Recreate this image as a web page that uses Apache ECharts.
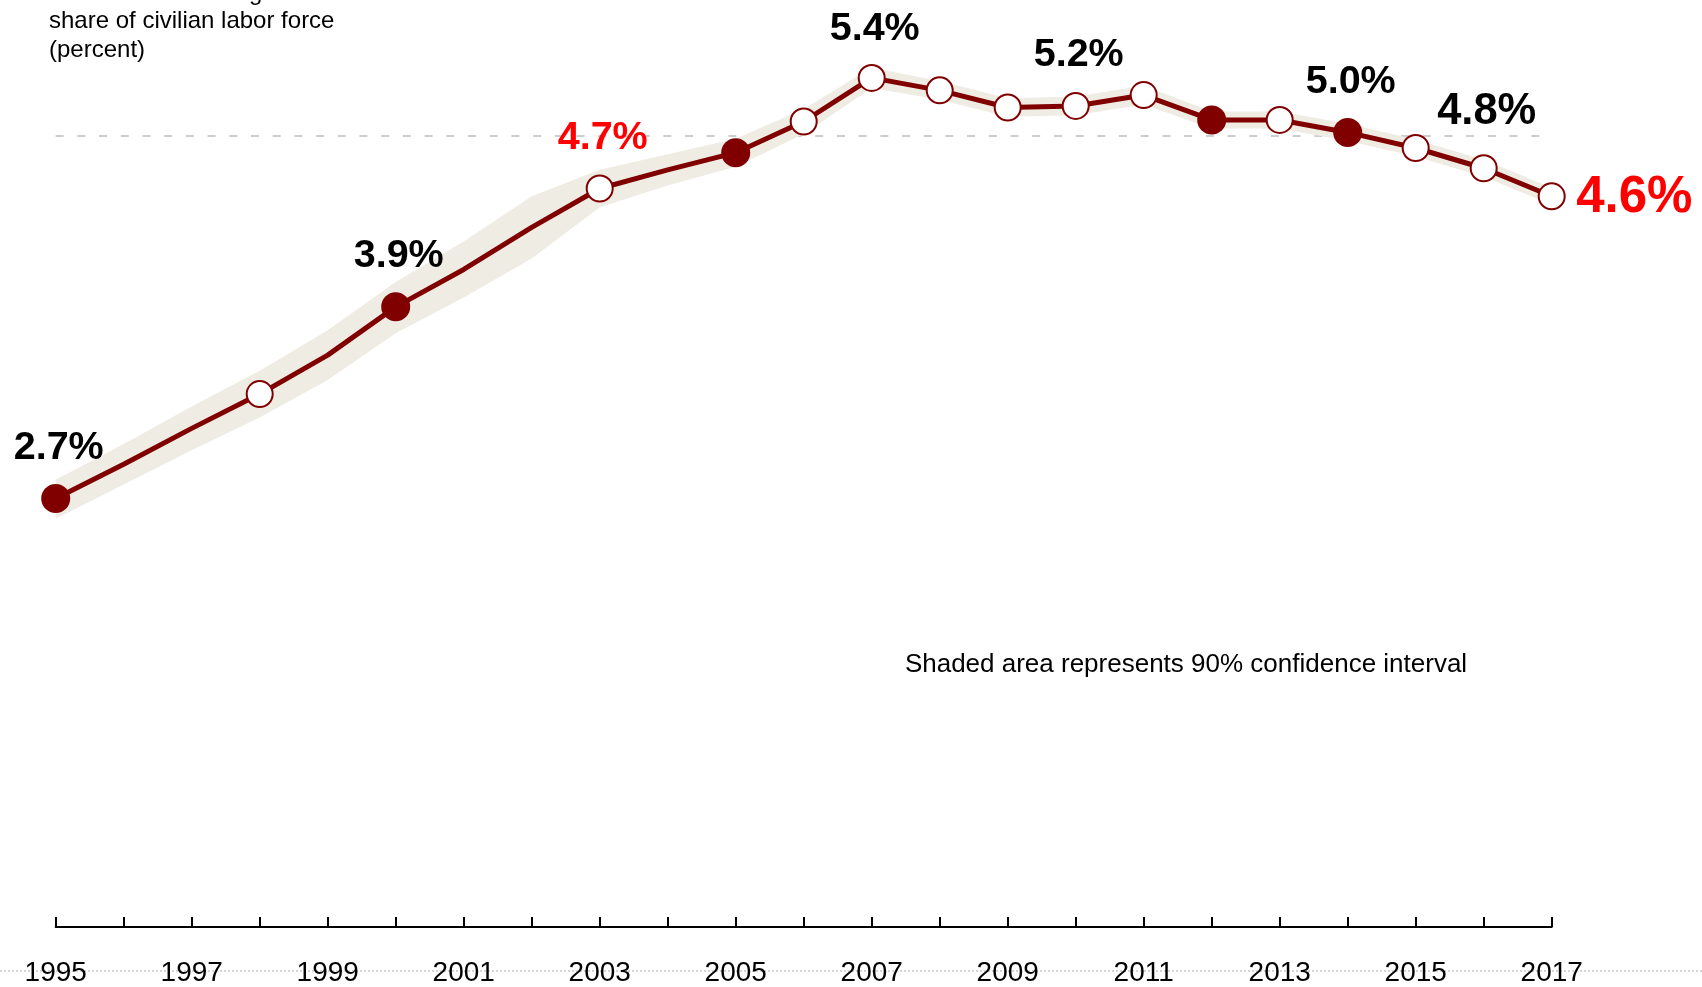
<!DOCTYPE html>
<html>
<head>
<meta charset="utf-8">
<script src="https://cdn.jsdelivr.net/npm/echarts@6/dist/echarts.min.js"></script>
<style>
	html, body { margin: 0; padding: 0; background: #fff; }
	#main { width: 1702px; height: 987px; }
</style>
</head>
<body>
<div id="main"></div>
<script>
	var years = ['1995', '1996', '1997', '1998', '1999', '2000', '2001', '2002', '2003', '2004', '2005', '2006',
		'2007', '2008', '2009', '2010', '2011', '2012', '2013', '2014', '2015', '2016', '2017'];
	// share of civilian labor force, percent
	var shareData = [2.70, 2.92, 3.15, 3.37, 3.62, 3.93, 4.17, 4.44, 4.69, 4.81, 4.92, 5.12,
		5.40, 5.32, 5.21, 5.22, 5.29, 5.13, 5.13, 5.05, 4.95, 4.82, 4.64];
	// 90% confidence interval
	var lowData = [2.57, 2.79, 3.01, 3.22, 3.46, 3.76, 3.99, 4.24, 4.57, 4.71, 4.83, 5.04,
		5.335, 5.26, 5.15, 5.16, 5.23, 5.075, 5.075, 4.995, 4.895, 4.765, 4.585];
	var highData = [2.82, 3.05, 3.29, 3.52, 3.78, 4.09, 4.35, 4.64, 4.81, 4.91, 5.01, 5.20,
		5.465, 5.38, 5.27, 5.28, 5.35, 5.185, 5.185, 5.105, 5.005, 4.875, 4.695];
	var filledYears = ['1995', '2000', '2005', '2012', '2014'];
	var openYears = ['1998', '2003', '2006', '2007', '2008', '2009', '2010', '2011', '2013', '2015', '2016', '2017'];
	var labelYears = ['1995', '2000', '2003', '2007', '2010', '2014', '2016', '2017'];
	var labelTexts = ['2.7%', '3.9%', '4.7%', '5.4%', '5.2%', '5.0%', '4.8%', '4.6%'];
	var refLevel = 5.03;

	var font = '"Liberation Sans", Arial, Helvetica, sans-serif';
	var lineColor = '#800000';

	function pointsFor(list) {
		return list.map(function (y) {
			return [y, shareData[years.indexOf(y)]];
		});
	}

	var bandData = highData.map(function (h, i) {
		return +(h - lowData[i]).toFixed(3);
	});

	var labelData = labelYears.map(function (y, i) {
		var item = {
			value: [y, shareData[years.indexOf(y)]],
			label: { formatter: labelTexts[i] }
		};
		if (y === '2003') item.label.color = '#ff0000';
		if (y === '2007') item.label.distance = 28;
		if (y === '2016') {
			item.label.fontSize = 43.5;
			item.label.distance = 34;
		}
		if (y === '2017') {
			item.label.color = '#ff0000';
			item.label.fontSize = 51;
			item.label.position = 'right';
			item.label.distance = 24;
			item.label.offset = [0, 2];
		}
		return item;
	});

	var option = {
		animation: false,
		title: {
			text: 'Unauthorized immigrant workers as a\nshare of civilian labor force\n(percent)',
			left: 49,
			top: -21,
			padding: 0,
			textStyle: {
				fontFamily: font,
				fontSize: 24,
				fontWeight: 'normal',
				lineHeight: 28.5,
				color: '#000'
			}
		},
		grid: {
			left: 55.7,
			right: 150.3,
			top: 15.6,
			bottom: 66
		},
		xAxis: {
			type: 'category',
			data: years,
			boundaryGap: false,
			offset: 8,
			axisLine: {
				onZero: false,
				lineStyle: { color: '#000', width: 2 }
			},
			axisTick: {
				inside: true,
				length: 10,
				interval: 0,
				lineStyle: { color: '#000', width: 2 }
			},
			axisLabel: {
				interval: 1,
				margin: 32,
				fontFamily: font,
				fontSize: 28,
				color: '#000'
			},
			splitLine: { show: false }
		},
		yAxis: {
			type: 'value',
			min: 0,
			max: 5.8,
			show: false
		},
		graphic: [{
			type: 'line',
			z: -10,
			shape: { x1: 0, y1: 971, x2: 1702, y2: 971 },
			style: { stroke: '#c8c8c8', lineWidth: 1.5, lineDash: [2, 2] }
		}, {
			type: 'text',
			x: 1186,
			y: 665,
			style: {
				text: 'Shaded area represents 90% confidence interval',
				font: '26px ' + font,
				fill: '#000',
				align: 'center',
				verticalAlign: 'middle'
			}
		}],
		series: [{
				name: 'low',
				type: 'line',
				stack: 'ci',
				data: lowData,
				symbol: 'none',
				lineStyle: { opacity: 0 },
				z: 2,
				markLine: {
					z: 1,
					silent: true,
					symbol: 'none',
					label: { show: false },
					lineStyle: { color: '#bdbdbd', width: 1.5, type: [8, 13.7] },
					data: [{ yAxis: refLevel }]
				}
			},
			{
				name: 'band',
				type: 'line',
				stack: 'ci',
				data: bandData,
				symbol: 'none',
				lineStyle: { opacity: 0 },
				areaStyle: { color: '#efece4', opacity: 1 },
				z: 2
			},
			{
				name: 'share',
				type: 'line',
				data: shareData,
				symbol: 'none',
				lineStyle: { color: lineColor, width: 5 },
				z: 3
			},
			{
				name: 'filled',
				type: 'scatter',
				data: pointsFor(filledYears),
				symbolSize: 29,
				itemStyle: { color: lineColor, opacity: 1 },
				z: 4
			},
			{
				name: 'open',
				type: 'scatter',
				data: pointsFor(openYears),
				symbolSize: 26,
				itemStyle: { color: '#fff', borderColor: lineColor, borderWidth: 2, opacity: 1 },
				z: 4
			},
			{
				name: 'labels',
				type: 'scatter',
				data: labelData,
				symbolSize: 1,
				itemStyle: { color: 'rgba(0,0,0,0)', opacity: 1 },
				label: {
					show: true,
					position: 'top',
					distance: 30,
					offset: [3, 0],
					fontFamily: font,
					fontSize: 39.5,
					fontWeight: 'bold',
					color: '#000'
				},
				z: 5
			}
		]
	};

	var chart = echarts.init(document.getElementById('main'));
	chart.setOption(option);
	window.addEventListener('resize', function () {
		chart.resize();
	});
</script>
</body>
</html>
